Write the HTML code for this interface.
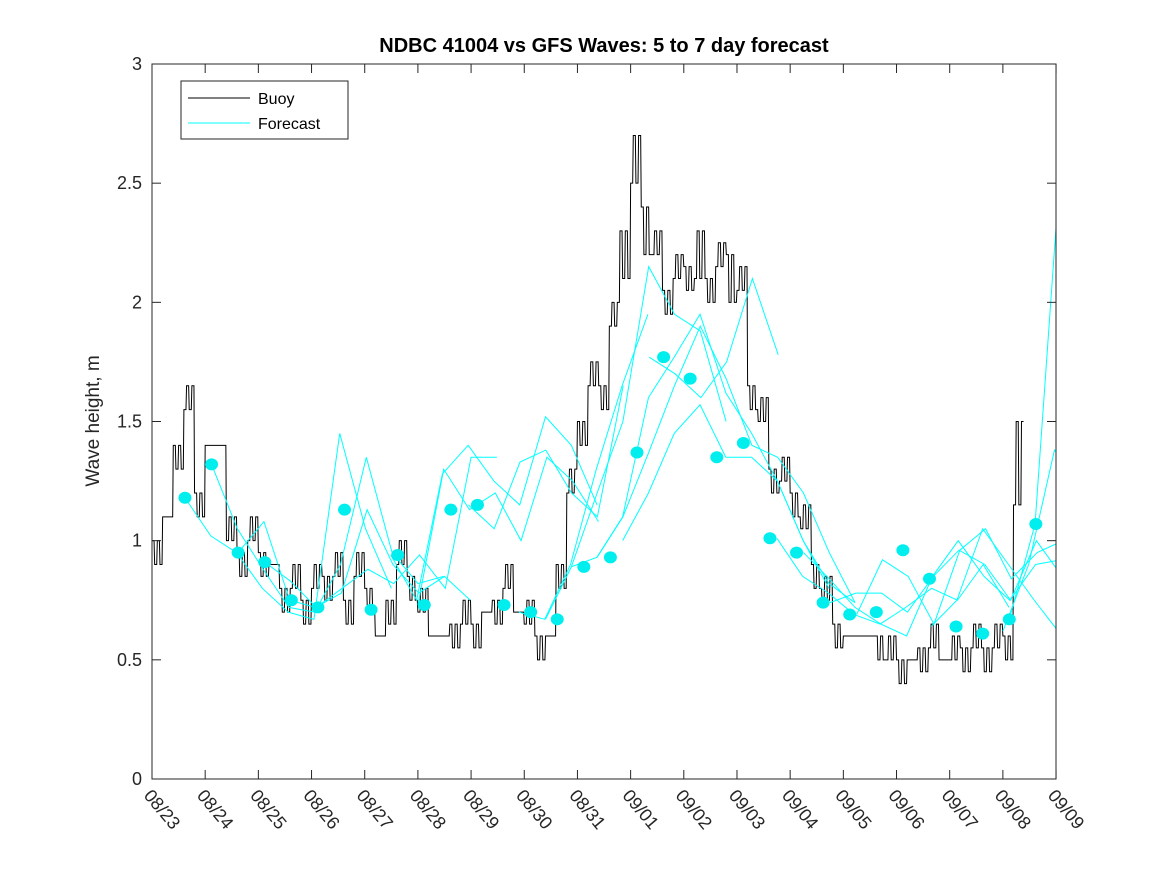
<!DOCTYPE html>
<html><head><meta charset="utf-8"><style>
body{margin:0;background:#fff;}
svg{display:block;font-family:"Liberation Sans","DejaVu Sans",sans-serif;}
</style></head><body>
<svg id="chart" width="1167" height="875" viewBox="0 0 1167 875">
<rect x="0" y="0" width="1167" height="875" fill="#fff"/>
<text x="604" y="52" text-anchor="middle" font-size="20" font-weight="bold" fill="#000">NDBC 41004 vs GFS Waves: 5 to 7 day forecast</text>
<text transform="translate(99,421) rotate(-90)" text-anchor="middle" font-size="19" fill="#262626">Wave height, m</text>
<g id="marks"></g>
<g id="axes"></g>
<g>
<rect x="181" y="81" width="167" height="58" fill="#fff" stroke="#262626" stroke-width="1"/>
<line x1="188" y1="98" x2="250" y2="98" stroke="#000" stroke-width="1"/>
<text x="258" y="104" font-size="16" fill="#000">Buoy</text>
<line x1="188" y1="123" x2="250" y2="123" stroke="#00ffff" stroke-width="1"/>
<text x="258" y="129" font-size="16" fill="#000">Forecast</text>
</g>
</svg>
<script>
const tickLabels=["08/23","08/24","08/25","08/26","08/27","08/28","08/29","08/30","08/31","09/01","09/02","09/03","09/04","09/05","09/06","09/07","09/08","09/09"];
const yTicks=[0,0.5,1,1.5,2,2.5,3];
const buoyStart=0;
const buoyStep=0.2;
const buoyValues=[1.0,1.1,1.4,1.55,1.2,1.4,1.4,1.0,0.95,1.0,0.95,0.9,0.8,0.8,0.75,0.8,0.85,0.85,0.75,0.85,0.8,0.6,0.75,0.9,0.85,0.7,0.6,0.6,0.65,0.65,0.65,0.7,0.75,0.8,0.7,0.65,0.6,0.6,0.9,1.2,1.5,1.65,1.65,1.9,2.3,2.5,2.4,2.2,2.05,2.1,2.15,2.1,2.1,2.15,2.2,2.05,1.65,1.5,1.3,1.25,1.2,1.05,0.9,0.75,0.65,0.6,0.6,0.6,0.6,0.5,0.5,0.5,0.55,0.55,0.5,0.5,0.55,0.55,0.55,0.55,0.6,1.15];
const buoyJitter=[0.1,0,0.1,0.1,0.1,0,0,0.1,0.1,0.1,0.1,0,0.1,0.1,0.1,0.1,0.1,0.1,0.1,0.1,0.1,0,0.1,0.1,0.1,0.1,0,0,0.1,0.1,0.1,0,0.1,0.1,0,0.1,0.1,0,0.1,0.1,0.1,0.1,0.1,0.1,0.2,0.2,0.2,0.1,0.1,0.1,0.1,0.2,0.1,0.1,0.2,0.1,0.1,0.1,0.1,0.1,0.1,0.1,0.1,0.1,0.1,0,0,0,0.1,0.1,0.1,0,0.1,0.1,0,0.1,0.1,0.1,0.1,0.1,0.1,0.35];
const dotStart=0.62;
const dotStep=0.5;
const dotValues=[1.18,1.32,0.95,0.91,0.75,0.72,1.13,0.71,0.94,0.73,1.13,1.15,0.73,0.70,0.67,0.89,0.93,1.37,1.77,1.68,1.35,1.41,1.01,0.95,0.74,0.69,0.70,0.96,0.84,0.64,0.61,0.67,1.07];
const fcStep=0.485;
const fcStarts=[0.62,1.12,1.62,2.12,4.49,5.0,5.95,6.9,7.4,7.88,8.37,8.85,9.35,11.75,12.25,12.75,13.25,14.65,16.12,16.0];
const fcValues=[
[1.18,1.02,0.95,0.80,0.70,0.67,1.45,1.05,0.80],
[1.32,1.05,0.88,0.72,0.70,0.90,1.35,0.95,0.82,0.85],
[0.95,1.08,0.75,0.72,0.78,1.13,0.90,0.78,0.85,0.75],
[0.91,0.83,0.72,0.80,0.88,0.82,0.94,0.80,1.35,1.35],
[0.94,0.75,1.28,1.40,1.25,1.15,1.52,1.40,1.15],
[0.73,1.30,1.13,1.20,1.00,1.35,1.25,1.08],
[1.15,1.05,1.33,1.38,1.20,1.10,1.65],
[0.70,0.67,0.90,1.30,1.65,1.95],
[0.67,0.89,1.20,1.50,2.15,1.95,1.88,1.50],
[0.89,0.93,1.10,1.60,1.77,1.95,1.62,1.45,1.25,1.00,0.80],
[0.93,1.10,1.37,1.65,1.90,1.68,1.40,1.35,1.20,0.95,0.74],
[1.00,1.20,1.45,1.57,1.35,1.35,1.25,1.00,0.82,0.74],
[1.77,1.70,1.60,1.75,2.10,1.78],
[1.01,0.85,0.78,0.69,0.65,0.72,0.80,0.75,0.90,0.72],
[0.95,0.84,0.72,0.65,0.60,0.85,1.00,0.85,0.75,0.90,0.92,0.76],
[0.74,0.78,0.78,0.70,0.85,0.96,0.90,0.75,1.00,0.85,0.70,0.65],
[0.69,0.92,0.85,0.65,0.96,1.05,0.84,0.95,1.00,0.88,0.72,0.65],
[0.64,0.75,1.05,0.90,0.75,0.61],
[0.67,1.07,2.60],
[0.62,0.90,1.38,1.26]
];
const X0=152,X1=1056,Y0=779,Y1=64,PXD=53.18;
function xs(d){return X0+d*PXD;}
function ys(v){return Y0-(v/3)*(Y0-Y1);}
const NS="http://www.w3.org/2000/svg";
const marks=document.getElementById('marks');
const axes=document.getElementById('axes');
function mk(tag,attrs,parent){const e=document.createElementNS(NS,tag);for(const k in attrs)e.setAttribute(k,attrs[k]);parent.appendChild(e);return e;}
const defs=mk('defs',{},marks);
const cp=mk('clipPath',{id:'clip'},defs);
mk('rect',{x:X0,y:Y1,width:X1-X0,height:Y0-Y1},cp);
const g=mk('g',{'clip-path':'url(#clip)'},marks);
let pts=[];
buoyValues.forEach((v,i)=>{
  const d0=buoyStart+i*buoyStep, d1=d0+buoyStep;
  const j=buoyJitter[i];
  const n=4;
  for(let k=0;k<n;k++){
    const a=d0+(d1-d0)*k/n, b=d0+(d1-d0)*(k+1)/n;
    const val=(k%2===1&&j>0)?v+j*((i%2)?1:-1):v;
    pts.push([xs(a),ys(val)]);pts.push([xs(b)-0.6,ys(val)]);
  }
});
const bl=mk('polyline',{points:pts.map(p=>p.join(',')).join(' '),fill:'none',stroke:'#000','stroke-width':1},g);


fcValues.forEach((arr,i)=>{
  const p=arr.map((v,k)=>xs(fcStarts[i]+k*fcStep)+','+ys(v)).join(' ');
  const l=mk('polyline',{points:p,fill:'none',stroke:'#00ffff','stroke-width':1},g);
  
  
});
dotValues.forEach((v,i)=>{
  const c=mk('ellipse',{cx:xs(dotStart+i*dotStep),cy:ys(v),rx:6.5,ry:6,fill:'#00eeee'},g);
  
  
});
const box=mk('rect',{x:X0,y:Y1,width:X1-X0,height:Y0-Y1,fill:'none',stroke:'#262626','stroke-width':1},axes);


yTicks.forEach(v=>{
  const y=ys(v);
  mk('line',{x1:X0,y1:y,x2:X0+9,y2:y,stroke:'#262626'},axes);
  mk('line',{x1:X1,y1:y,x2:X1-9,y2:y,stroke:'#262626'},axes);
  const t=mk('text',{x:X0-10,y:y+6,'text-anchor':'end','font-size':18,fill:'#262626'},axes);
  t.textContent=String(v);
  
  
});
tickLabels.forEach((s,i)=>{
  const x=xs(i);
  mk('line',{x1:x,y1:Y0,x2:x,y2:Y0-9,stroke:'#262626'},axes);
  mk('line',{x1:x,y1:Y1,x2:x,y2:Y1+9,stroke:'#262626'},axes);
  const t=mk('text',{transform:'translate('+(x-9)+',796) rotate(50)','font-size':18,fill:'#262626'},axes);
  t.textContent=s;
  
  
});
</script>
</body></html>
